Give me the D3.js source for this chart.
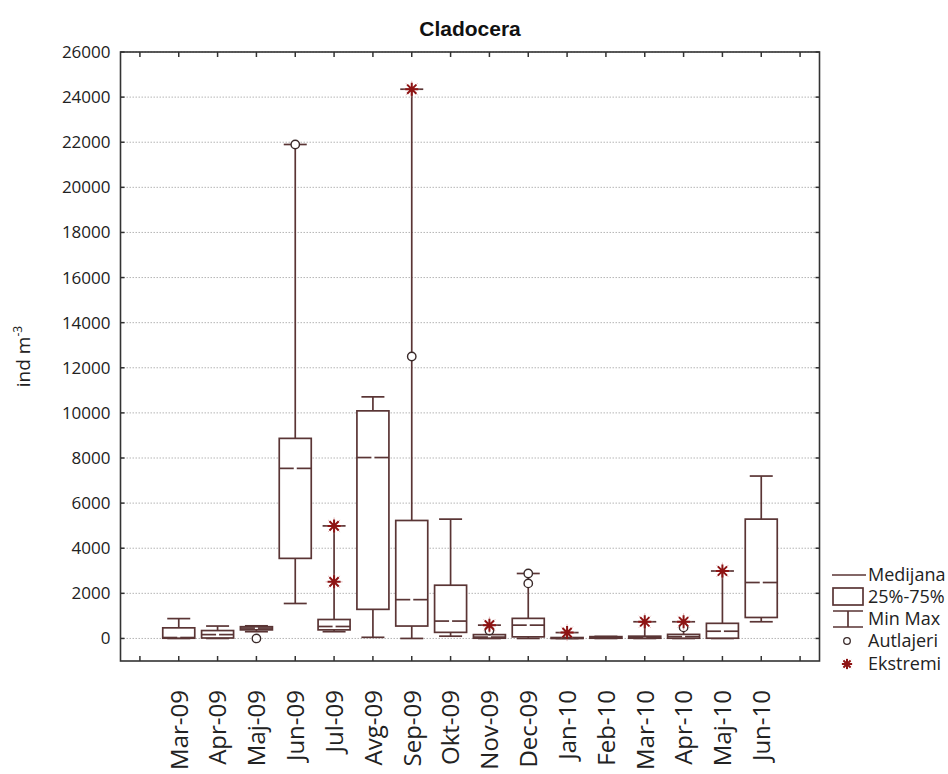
<!DOCTYPE html>
<html>
<head>
<meta charset="utf-8">
<script src="https://cdn.jsdelivr.net/npm/d3@7"></script>
<style>
  body { margin: 0; background: #fff; }
  svg { display: block; }
</style>
</head>
<body>
<svg id="chart" width="948" height="774"></svg>
<script>
// Monthly Cladocera abundance (ind m^-3): box = 25%-75%, whiskers = min/max
const categories = ["Mar-09", "Apr-09", "Maj-09", "Jun-09", "Jul-09", "Avg-09", "Sep-09", "Okt-09",
                    "Nov-09", "Dec-09", "Jan-10", "Feb-10", "Mar-10", "Apr-10", "Maj-10", "Jun-10"];
const minValues    = [0,   0,   300, 1550,  300,  50,    0,     100,  0,   0,    0,   0,  0,   0,   0,    740];
const q1Values     = [10,  20,  380, 3550,  380,  1290,  550,   270,  10,  70,   0,   10, 10,  10,  10,   930];
const medianValues = [40,  170, 460, 7540,  530,  8020,  1720,  770,  60,  590,  10,  40, 50,  80,  320,  2480];
const q3Values     = [470, 350, 520, 8870,  840,  10090, 5230,  2360, 170, 890,  40,  80, 100, 180, 670,  5290];
const maxValues    = [880, 550, 560, 21900, 4990, 10710, 24350, 5290, 590, 2880, 260, 90, 740, 740, 2990, 7200];

// Outliers (circles) and extremes (asterisks) as [month, value]
const outliers = [["Maj-09", 0], ["Jun-09", 21900], ["Sep-09", 12500], ["Nov-09", 350],
                  ["Dec-09", 2880], ["Dec-09", 2440], ["Apr-10", 490]];
const extremes = [["Jul-09", 4990], ["Jul-09", 2510], ["Sep-09", 24350], ["Nov-09", 590],
                  ["Jan-10", 260], ["Mar-10", 740], ["Apr-10", 740], ["Maj-10", 2990]];

const yTicks = d3.range(0, 26001, 2000);
const legendLabels = ["Medijana", "25%-75%", "Min Max", "Autlajeri", "Ekstremi"];

const plot = { left: 120.5, right: 819.5, top: 52, bottom: 661 };
const lineColor = "#5a3535";
const starColor = "#8e1414";
const frameColor = "#333";
const boxW = 32, capW = 23;

const svg = d3.select("#chart");

const x = d3.scalePoint().domain(categories).range([plot.left, plot.right]).padding(1.5);
const y = d3.scaleLinear().domain([-1000, 26000]).range([plot.bottom, plot.top]);

// Gridlines
svg.append("g")
  .selectAll("line").data(yTicks).join("line")
  .attr("x1", plot.left).attr("x2", plot.right)
  .attr("y1", d => y(d)).attr("y2", d => y(d))
  .attr("stroke", "#b5b5b5").attr("stroke-width", 1)
  .attr("stroke-dasharray", "1.5,1.5");

// Y axis (left), inward ticks
const yAxis = svg.append("g").attr("transform", `translate(${plot.left},0)`)
  .call(d3.axisLeft(y).tickValues(yTicks).tickSize(0).tickPadding(10).tickFormat(d3.format("d")));
yAxis.select(".domain").remove();
yAxis.selectAll("text")
  .attr("font-family", "'Open Sans', sans-serif").attr("font-size", 17).attr("fill", "#222");

// Inward tick marks on left and right frame
svg.append("g").selectAll("line").data(yTicks).join("line")
  .attr("x1", plot.left).attr("x2", plot.left + 4)
  .attr("y1", d => y(d)).attr("y2", d => y(d))
  .attr("stroke", frameColor).attr("stroke-width", 1.5);
svg.append("g").selectAll("line").data(yTicks).join("line")
  .attr("x1", plot.right).attr("x2", plot.right - 4)
  .attr("y1", d => y(d)).attr("y2", d => y(d))
  .attr("stroke", frameColor).attr("stroke-width", 1.5);

// X axis labels and category ticks
const xAxis = svg.append("g").attr("transform", `translate(0,${plot.bottom})`)
  .call(d3.axisBottom(x).tickSize(0).tickPadding(0));
xAxis.select(".domain").remove();
xAxis.selectAll("text")
  .attr("font-family", "'Open Sans', sans-serif").attr("font-size", 24).attr("fill", "#222")
  .attr("text-anchor", "end")
  .attr("transform", "rotate(-90)")
  .attr("x", -29).attr("y", 0).attr("dy", "0.35em");

const step = x.step();
const tickXs = d3.range(-1, categories.length + 1).map(i => x(categories[0]) + i * step);
svg.append("g").selectAll("line").data(tickXs).join("line")
  .attr("x1", d => d).attr("x2", d => d)
  .attr("y1", plot.bottom).attr("y2", plot.bottom - 5)
  .attr("stroke", frameColor).attr("stroke-width", 1.5);
svg.append("g").selectAll("line").data(tickXs).join("line")
  .attr("x1", d => d).attr("x2", d => d)
  .attr("y1", plot.top).attr("y2", plot.top + 5)
  .attr("stroke", frameColor).attr("stroke-width", 1.5);

// Frame
svg.append("rect")
  .attr("x", plot.left).attr("y", plot.top)
  .attr("width", plot.right - plot.left).attr("height", plot.bottom - plot.top)
  .attr("fill", "none").attr("stroke", frameColor).attr("stroke-width", 1.6);

// Box-and-whisker marks
const rows = categories.map((c, i) => ({
  c, min: minValues[i], q1: q1Values[i], med: medianValues[i], q3: q3Values[i], max: maxValues[i]
}));
const boxes = svg.append("g").selectAll("g").data(rows).join("g")
  .attr("transform", d => `translate(${x(d.c)},0)`)
  .attr("stroke", lineColor).attr("stroke-width", 1.7).attr("fill", "none");

boxes.append("line").attr("x1", 0).attr("x2", 0)
  .attr("y1", d => y(d.q3)).attr("y2", d => y(d.max));
boxes.append("line").attr("x1", 0).attr("x2", 0)
  .attr("y1", d => y(d.q1)).attr("y2", d => y(d.min));
boxes.append("line").attr("x1", -capW / 2).attr("x2", capW / 2)
  .attr("y1", d => y(d.max)).attr("y2", d => y(d.max));
boxes.append("line").attr("x1", -capW / 2).attr("x2", capW / 2)
  .attr("y1", d => y(d.min)).attr("y2", d => y(d.min));
boxes.append("rect")
  .attr("x", -boxW / 2).attr("width", boxW)
  .attr("y", d => y(d.q3)).attr("height", d => Math.max(0.5, y(d.q1) - y(d.q3)))
  .attr("fill", "#fff");
boxes.append("line").attr("x1", -boxW / 2).attr("x2", -1.5)
  .attr("y1", d => y(d.med)).attr("y2", d => y(d.med));
boxes.append("line").attr("x1", 1.5).attr("x2", boxW / 2)
  .attr("y1", d => y(d.med)).attr("y2", d => y(d.med));

// Outlier circles
svg.append("g").selectAll("circle").data(outliers).join("circle")
  .attr("cx", d => x(d[0])).attr("cy", d => y(d[1])).attr("r", 4.2)
  .attr("fill", "#fff").attr("stroke", "#3a2a2a").attr("stroke-width", 1.4);

// Asterisk symbol
function star(g, r, color, w, op) {
  const a = r * Math.SQRT1_2;
  g.append("path")
    .attr("d", `M${-r},0H${r}M0,${-r}V${r}M${-a},${-a}L${a},${a}M${-a},${a}L${a},${-a}`)
    .attr("stroke", color).attr("stroke-width", w).attr("fill", "none").attr("opacity", op);
}
const ext = svg.append("g").selectAll("g").data(extremes).join("g")
  .attr("transform", d => `translate(${x(d[0])},${y(d[1])})`);
ext.each(function () {
  const g = d3.select(this);
  star(g, 8.5, "#c07070", 1, 0.45);
  star(g, 6.5, starColor, 2, 1);
});

// Title and axis label
svg.append("text")
  .attr("x", (plot.left + plot.right) / 2).attr("y", 36)
  .attr("text-anchor", "middle")
  .attr("font-family", "'Liberation Sans', Arial, sans-serif")
  .attr("font-weight", "bold").attr("font-size", 21).attr("fill", "#111")
  .text("Cladocera");

const yl = svg.append("text")
  .attr("transform", `translate(30,${(plot.top + plot.bottom) / 2}) rotate(-90)`)
  .attr("text-anchor", "middle")
  .attr("font-family", "'Open Sans', sans-serif").attr("font-size", 19).attr("fill", "#222");
yl.append("tspan").text("ind m");
yl.append("tspan").attr("font-size", 12).attr("dy", -8).text("-3");

// Legend
const lg = svg.append("g").attr("transform", "translate(832,0)");
const lx = 36;
const legendY = [575, 597, 619, 641, 664];
lg.append("line").attr("x1", 0).attr("x2", 34).attr("y1", legendY[0]).attr("y2", legendY[0])
  .attr("stroke", lineColor).attr("stroke-width", 1.7);
lg.append("rect").attr("x", 1).attr("y", legendY[1] - 9).attr("width", 30).attr("height", 17)
  .attr("fill", "#fff").attr("stroke", lineColor).attr("stroke-width", 1.7);
lg.append("path")
  .attr("d", `M1,${legendY[2] - 8}H31M16,${legendY[2] - 8}V${legendY[2] + 8}M1,${legendY[2] + 8}H31`)
  .attr("stroke", lineColor).attr("stroke-width", 1.7).attr("fill", "none");
lg.append("circle").attr("cx", 15).attr("cy", legendY[3]).attr("r", 3.3)
  .attr("fill", "#fff").attr("stroke", "#3a2a2a").attr("stroke-width", 1.3);
const ls = lg.append("g").attr("transform", `translate(15,${legendY[4]})`);
star(ls, 6, "#c07070", 1, 0.45);
star(ls, 5, starColor, 2, 1);

lg.selectAll("text.leg").data(legendLabels).join("text")
  .attr("class", "leg")
  .attr("x", lx).attr("y", (d, i) => legendY[i]).attr("dy", "0.36em")
  .attr("font-family", "'Open Sans', sans-serif").attr("font-size", 18).attr("fill", "#222")
  .text(d => d);
</script>
</body>
</html>
